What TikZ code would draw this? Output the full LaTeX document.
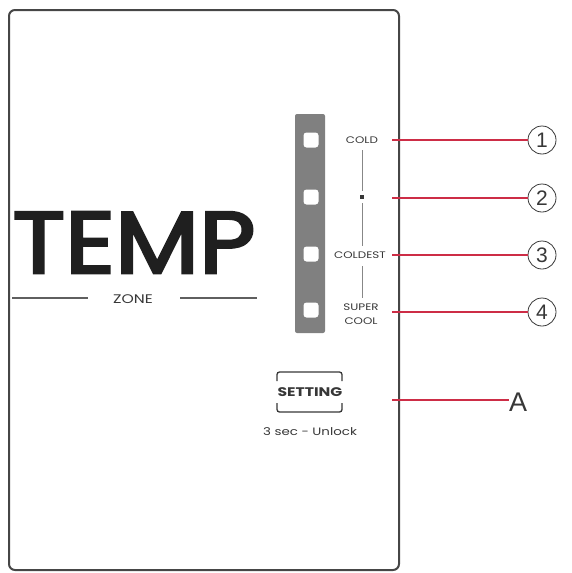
\documentclass[tikz,border=0pt]{standalone}
\usepackage{fontspec}
\setmainfont{Poppins}
\newfontfamily\arialf{Liberation Sans}
\newcommand\thicktext[1]{\special{pdf:literal direct 2 Tr 0.3 w}#1\special{pdf:literal direct 0 Tr}}
\definecolor{panelc}{RGB}{70,70,70}
\definecolor{barc}{RGB}{128,128,128}
\definecolor{txtc}{RGB}{55,55,55}
\definecolor{redc}{RGB}{205,45,70}
\begin{document}
\begin{tikzpicture}[x=1pt,y=-1pt,
  panel/.style={draw=panelc,line width=2pt,rounded corners=6pt},
  led/.style={draw=none,fill=white,rounded corners=3pt,minimum width=15pt,minimum height=15pt,inner sep=0pt},
  lbl/.style={text=txtc,font=\fontsize{9.5}{10}\selectfont,inner sep=0pt,align=center,xscale=1.25},
  greyline/.style={draw=txtc!60,line width=0.7pt},
  redline/.style={draw=redc,line width=1.1pt},
  circnum/.style={circle,draw=txtc,line width=0.8pt,minimum size=28pt,inner sep=0pt,text=txtc,font=\arialf\fontsize{21}{21}\selectfont},
  letter/.style={text=txtc,inner sep=0pt,font=\arialf\fontsize{27}{27}\selectfont}]
\useasboundingbox (0,0) rectangle (571,573);
% panel
\draw[panel] (9,10) rectangle (399,570);
% TEMP ZONE
\node[inner sep=0pt,text=black!88] (temp) at (134,242.5) {\resizebox{243pt}{61pt}{\fontsize{10}{10}\selectfont\thicktext{TEMP}}};
\node[lbl,font=\fontsize{12.5}{13}\selectfont,xscale=1] (zone) at (133,299) {ZONE};
\draw[greyline,draw=txtc!80,line width=1.1pt] (12,298) -- (88,298);
\draw[greyline,draw=txtc!80,line width=1.1pt] (180,298) -- (257,298);
% bar
\node[fill=barc,rounded corners=2pt,minimum width=30pt,minimum height=219pt,inner sep=0pt] (bar) at (310,223.5) {};
\node[led] (l1) at (311,140) {};
\node[led] (l2) at (311,197) {};
\node[led] (l3) at (311,254) {};
\node[led] (l4) at (311,310) {};
% labels
\node[lbl] (cold) at (362,140) {COLD};
\node[fill=txtc,minimum size=3.2pt,inner sep=0pt] (dot) at (362,197) {};
\node[lbl] (coldest) at (360,255) {COLDEST};
\node[lbl,font=\fontsize{9.5}{14}\selectfont] (super) at (361,314) {SUPER\\COOL};
\draw[greyline] (362,150) -- (362,191);
\draw[greyline] (362,203) -- (362,246);
\draw[greyline] (362,266) -- (362,298);
% setting button
\draw[draw=txtc,line width=1.3pt,rounded corners=2.5pt] (277,381) -- (277,372) -- (342,372) -- (342,381);
\draw[draw=txtc,line width=1.3pt,rounded corners=2.5pt] (277,403) -- (277,412) -- (342,412) -- (342,403);
\node[lbl,font=\bfseries\fontsize{12.5}{13}\selectfont,xscale=1] (setting) at (310,392) {SETTING};
\node[lbl,font=\fontsize{10.7}{12}\selectfont,xscale=1] (unlock) at (310,432) {3 sec - Unlock};
% callouts
\coordinate (p1) at (392,140);
\coordinate (p2) at (392,198);
\coordinate (p3) at (392,255);
\coordinate (p4) at (392,312);
\coordinate (pa) at (392,400);
\node[circnum] (c1) at (542,140) {1};
\node[circnum] (c2) at (542,198) {2};
\node[circnum] (c3) at (542,255) {3};
\node[circnum] (c4) at (542,312) {4};
\node[letter] (a) at (518,402) {A};
\draw[redline] (p1) -- (c1.west);
\draw[redline] (p2) -- (c2.west);
\draw[redline] (p3) -- (c3.west);
\draw[redline] (p4) -- (c4.west);
\draw[redline] (pa) -- (pa -| a.west);
\end{tikzpicture}
\end{document}
